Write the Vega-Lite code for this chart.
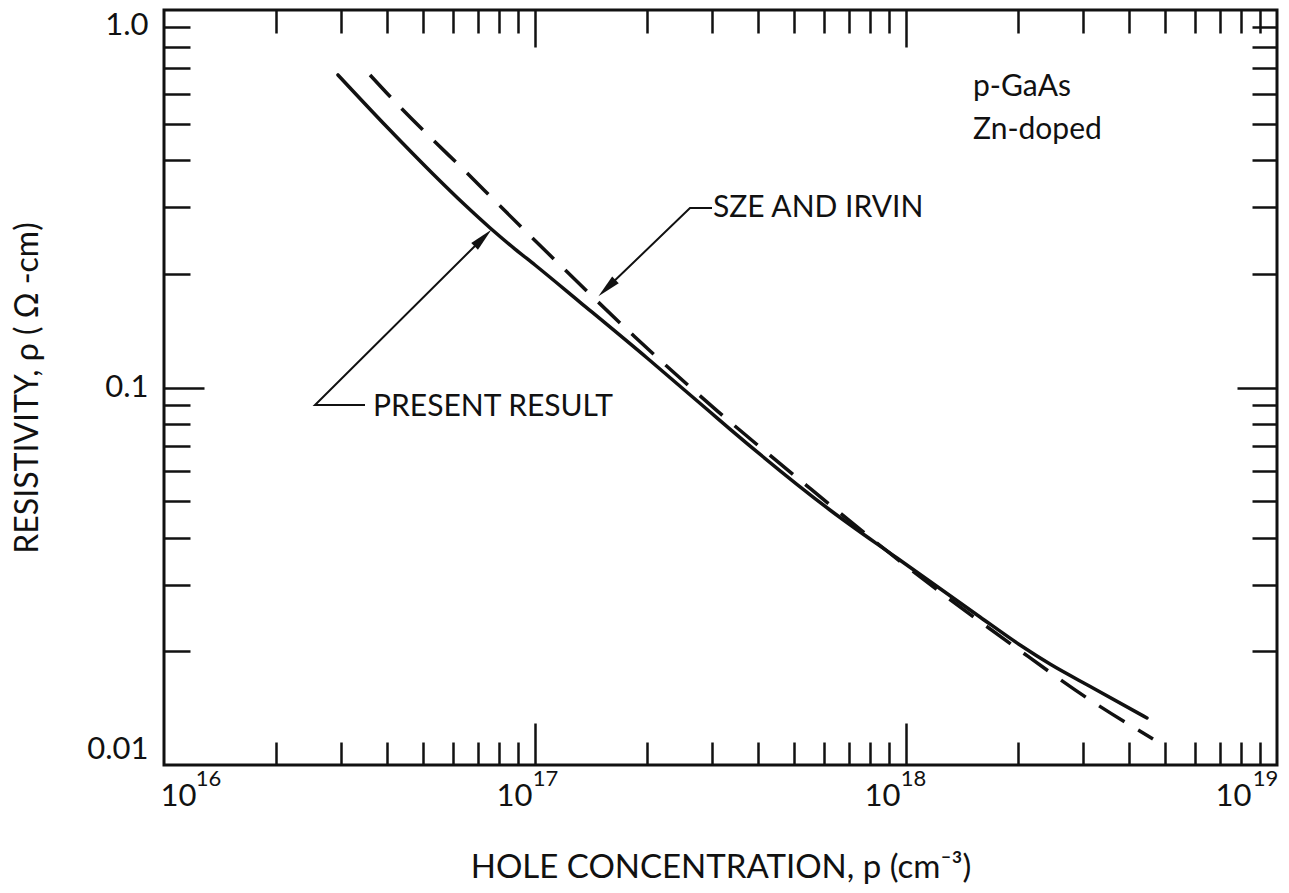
{
  "$schema": "https://vega.github.io/schema/vega-lite/v6.json",
  "width": 1113,
  "height": 755,
  "autosize": {"type": "none"},
  "padding": {"left": 164, "top": 10, "right": 12, "bottom": 128},
  "background": "white",
  "config": {
    "view": {"stroke": "#111", "strokeWidth": 3},
    "axis": {
      "domain": false,
      "grid": false,
      "tickColor": "#111",
      "tickWidth": 2.5,
      "labelColor": "#111",
      "titleColor": "#111",
      "labelFont": "Lato",
      "titleFont": "Lato",
      "titleFontWeight": "normal",
      "labelOverlap": false
    }
  },
  "datasets": {
    "curves": [
      {"series": "Present result", "p": 2.944e16, "rho": 0.6728},
      {"series": "Present result", "p": 3.99e16, "rho": 0.4898},
      {"series": "Present result", "p": 5.31e16, "rho": 0.3678},
      {"series": "Present result", "p": 6.477e16, "rho": 0.3043},
      {"series": "Present result", "p": 7.57e16, "rho": 0.2646},
      {"series": "Present result", "p": 8.833e16, "rho": 0.2327},
      {"series": "Present result", "p": 1.0e17, "rho": 0.2111},
      {"series": "Present result", "p": 1.321e17, "rho": 0.1684},
      {"series": "Present result", "p": 2.005e17, "rho": 0.1197},
      {"series": "Present result", "p": 2.965e17, "rho": 0.0861},
      {"series": "Present result", "p": 3.354e17, "rho": 0.0776},
      {"series": "Present result", "p": 6.238e17, "rho": 0.04737},
      {"series": "Present result", "p": 9.456e17, "rho": 0.03534},
      {"series": "Present result", "p": 1.583e18, "rho": 0.02467},
      {"series": "Present result", "p": 2.029e18, "rho": 0.02079},
      {"series": "Present result", "p": 2.444e18, "rho": 0.01851},
      {"series": "Present result", "p": 3.19e18, "rho": 0.016},
      {"series": "Present result", "p": 4.462e18, "rho": 0.01332},
      {"series": "Sze and Irvin", "p": 3.592e16, "rho": 0.6728},
      {"series": "Sze and Irvin", "p": 4.327e16, "rho": 0.5534},
      {"series": "Sze and Irvin", "p": 5.212e16, "rho": 0.4609},
      {"series": "Sze and Irvin", "p": 6.558e16, "rho": 0.37},
      {"series": "Sze and Irvin", "p": 7.9e16, "rho": 0.3082},
      {"series": "Sze and Irvin", "p": 1.146e17, "rho": 0.215},
      {"series": "Sze and Irvin", "p": 1.86e17, "rho": 0.1361},
      {"series": "Sze and Irvin", "p": 3.038e17, "rho": 0.0882},
      {"series": "Sze and Irvin", "p": 5.377e17, "rho": 0.05515},
      {"series": "Sze and Irvin", "p": 1.0e18, "rho": 0.03367},
      {"series": "Sze and Irvin", "p": 1.967e18, "rho": 0.02054},
      {"series": "Sze and Irvin", "p": 3.133e18, "rho": 0.01487},
      {"series": "Sze and Irvin", "p": 4.632e18, "rho": 0.01172}
    ],
    "notes": [
      {"label": "SZE AND IRVIN", "p": 3.019e17, "rho": 0.2989},
      {"label": "PRESENT RESULT", "p": 3.659e16, "rho": 0.08878},
      {"label": "p-GaAs", "p": 1.516e18, "rho": 0.6252},
      {"label": "Zn-doped", "p": 1.516e18, "rho": 0.481}
    ],
    "leaders": [
      {"id": "pr", "ord": 1, "p": 3.482e16, "rho": 0.08989},
      {"id": "pr", "ord": 2, "p": 2.553e16, "rho": 0.08989},
      {"id": "pr", "ord": 3, "p": 7.241e16, "rho": 0.2489},
      {"id": "si", "ord": 1, "p": 3.0e17, "rho": 0.2989},
      {"id": "si", "ord": 2, "p": 2.617e17, "rho": 0.2989},
      {"id": "si", "ord": 3, "p": 1.563e17, "rho": 0.1834}
    ],
    "heads": [
      {"id": "pr", "p": 7.241e16, "rho": 0.2489},
      {"id": "si", "p": 1.563e17, "rho": 0.1834}
    ]
  },
  "resolve": {"axis": {"x": "independent", "y": "independent"}},
  "layer": [
    {
      "data": {"name": "curves"},
      "transform": [{"filter": "datum.series === 'Present result'"}],
      "mark": {"type": "line", "stroke": "#111", "strokeWidth": 3.5, "strokeCap": "round", "interpolate": "monotone"},
      "encoding": {
        "x": {"field": "p", "type": "quantitative", "scale": {"type": "log", "domain": [1e16, 1e19], "nice": false},
          "axis": {"orient": "bottom", "values": [2e16,3e16,4e16,5e16,6e16,7e16,8e16,9e16,2e17,3e17,4e17,5e17,6e17,7e17,8e17,9e17,2e18,3e18,4e18,5e18,6e18,7e18,8e18,9e18],
            "tickSize": -23, "labels": false, "title": "HOLE CONCENTRATION, p (cm⁻³)", "titleFontSize": 33, "titlePadding": 85}},
        "y": {"field": "rho", "type": "quantitative", "scale": {"type": "log", "domain": [0.01, 1], "nice": false},
          "axis": {"orient": "left", "values": [0.02,0.03,0.04,0.05,0.06,0.07,0.08,0.09,0.2,0.3,0.4,0.5,0.6,0.7,0.8,0.9],
            "tickSize": -26, "labels": false, "title": "RESISTIVITY,  ρ  ( Ω -cm)", "titleFontSize": 32, "titlePadding": 118}}
      }
    },
    {
      "data": {"name": "curves"},
      "transform": [{"filter": "datum.series === 'Sze and Irvin'"}],
      "mark": {"type": "line", "stroke": "#111", "strokeWidth": 3.5, "strokeDash": [30, 16], "interpolate": "monotone"},
      "encoding": {
        "x": {"field": "p", "type": "quantitative", "scale": {"type": "log", "domain": [1e16, 1e19], "nice": false},
          "axis": {"orient": "bottom", "values": [1e17, 1e18], "tickSize": -42, "labels": false, "title": null}},
        "y": {"field": "rho", "type": "quantitative", "scale": {"type": "log", "domain": [0.01, 1], "nice": false},
          "axis": {"orient": "left", "values": [0.1], "tickSize": -40, "labels": false, "title": null}}
      }
    },
    {
      "data": {"name": "notes"},
      "mark": {"type": "text", "align": "left", "baseline": "middle", "font": "Lato", "fontSize": 30, "color": "#111"},
      "encoding": {
        "x": {"field": "p", "type": "quantitative", "scale": {"type": "log", "domain": [1e16, 1e19], "nice": false},
          "axis": {"orient": "bottom", "values": [1e16, 1e17, 1e18, 1e19], "ticks": false, "title": null,
            "labelExpr": "'10'", "labelFontSize": 31, "labelPadding": 31, "labelBaseline": "middle", "labelAlign": "center",
            "labelOffset": {"condition": [{"test": "datum.value < 2e16", "value": 14}, {"test": "datum.value < 2e17", "value": -21}, {"test": "datum.value < 2e18", "value": -24}], "value": -44}}},
        "y": {"field": "rho", "type": "quantitative", "scale": {"type": "log", "domain": [0.01, 1], "nice": false},
          "axis": {"orient": "left", "values": [0.01, 0.1, 1], "ticks": false, "title": null,
            "labelExpr": "datum.value > 0.5 ? '1.0' : (datum.value > 0.05 ? '0.1' : '0.01')",
            "labelFontSize": 31, "labelPadding": 16, "labelFlush": true}},
        "text": {"field": "label", "type": "nominal"}
      }
    },
    {
      "data": {"name": "leaders"},
      "mark": {"type": "line", "stroke": "#111", "strokeWidth": 2},
      "encoding": {
        "x": {"field": "p", "type": "quantitative", "scale": {"type": "log", "domain": [1e16, 1e19], "nice": false},
          "axis": {"orient": "bottom", "values": [1e16, 1e17, 1e18, 1e19], "ticks": false, "title": null,
            "labelExpr": "datum.value < 5e16 ? '16' : (datum.value < 5e17 ? '17' : (datum.value < 5e18 ? '18' : '19'))",
            "labelFontSize": 22, "labelPadding": 13, "labelBaseline": "middle", "labelAlign": "center",
            "labelOffset": {"condition": [{"test": "datum.value < 2e16", "value": 44}, {"test": "datum.value < 2e17", "value": 10}, {"test": "datum.value < 2e18", "value": 7}], "value": -12}}},
        "y": {"field": "rho", "type": "quantitative", "scale": {"type": "log", "domain": [0.01, 1], "nice": false},
          "axis": {"orient": "right", "values": [0.02,0.03,0.04,0.05,0.06,0.07,0.08,0.09,0.2,0.3,0.4,0.5,0.6,0.7,0.8,0.9],
            "tickSize": -25, "labels": false, "title": null}},
        "detail": {"field": "id", "type": "nominal"},
        "order": {"field": "ord", "type": "quantitative"}
      }
    },
    {
      "data": {"name": "heads"},
      "transform": [{"filter": "datum.id === 'pr'"}],
      "mark": {"type": "point", "shape": "M0,-1L0.4,1L-0.4,1Z", "filled": true, "color": "#111", "opacity": 1, "size": 560, "angle": 45},
      "encoding": {
        "x": {"field": "p", "type": "quantitative", "scale": {"type": "log", "domain": [1e16, 1e19], "nice": false},
          "axis": {"orient": "top", "values": [2e16,3e16,4e16,5e16,6e16,7e16,8e16,9e16,2e17,3e17,4e17,5e17,6e17,7e17,8e17,9e17,2e18,3e18,4e18,5e18,6e18,7e18,8e18,9e18],
            "tickSize": -23, "labels": false, "title": null}},
        "y": {"field": "rho", "type": "quantitative", "scale": {"type": "log", "domain": [0.01, 1], "nice": false},
          "axis": {"orient": "right", "values": [0.1], "tickSize": -40, "labels": false, "title": null}}
      }
    },
    {
      "data": {"name": "heads"},
      "transform": [{"filter": "datum.id === 'si'"}],
      "mark": {"type": "point", "shape": "M0,-1L0.4,1L-0.4,1Z", "filled": true, "color": "#111", "opacity": 1, "size": 560, "angle": 226},
      "encoding": {
        "x": {"field": "p", "type": "quantitative", "scale": {"type": "log", "domain": [1e16, 1e19], "nice": false},
          "axis": {"orient": "top", "values": [1e17, 1e18], "tickSize": -37, "labels": false, "title": null}},
        "y": {"field": "rho", "type": "quantitative", "scale": {"type": "log", "domain": [0.01, 1], "nice": false}, "axis": null}
      }
    }
  ]
}
